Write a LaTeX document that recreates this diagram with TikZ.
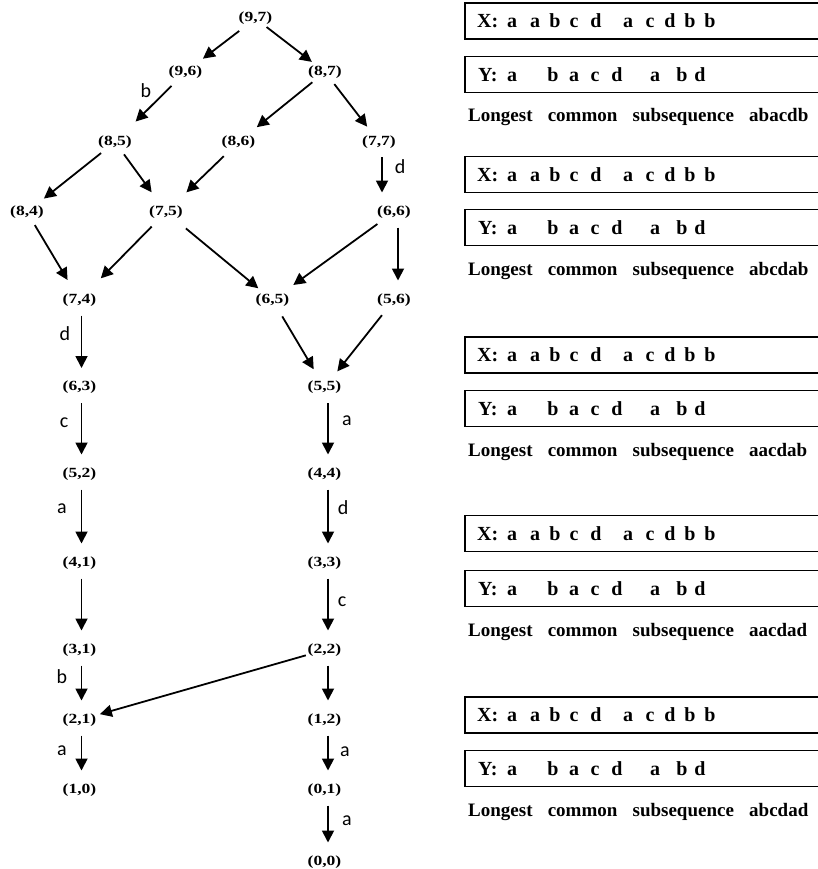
\documentclass[tikz,border=0pt]{standalone}
\usepackage{fontspec}
\setmainfont{Liberation Serif}
\newfontfamily\lblfont{Carlito}
\usepackage{graphicx}
\usetikzlibrary{arrows.meta}
\begin{document}
\begin{tikzpicture}[x=1pt,y=-1pt,
  nd/.style={font=\fontsize{14}{14}\selectfont\bfseries, inner sep=0pt},
  lbl/.style={font=\lblfont\fontsize{20}{20}\selectfont, inner sep=0pt},
  arr/.style={line width=1.8pt, -{Triangle[length=12pt,width=12pt]}},
  sh/.style 2 args={shorten <=#1pt, shorten >=#2pt},
  vt/.style={arr, shorten <=15.5pt, shorten >=19.5pt},
  seq/.style={font=\fontsize{20}{20}\selectfont\bfseries, inner sep=0pt, anchor=base},
  lcs/.style={font=\fontsize{19}{19}\selectfont\bfseries, inner sep=0pt, anchor=base west},
  boxln/.style={line width=1.6pt}]
\useasboundingbox (0,0) rectangle (818,869);

% ---- state nodes
\foreach \nm/\x/\y/\t in {
  n97/255.5/18.5/{(9,7)}, n96/185.5/72/{(9,6)}, n87/325/72/{(8,7)},
  n85/115/142/{(8,5)}, n86/238.5/142/{(8,6)}, n77/379/142/{(7,7)},
  n84/27/212/{(8,4)}, n75/166/212/{(7,5)}, n66/394/212/{(6,6)},
  n74/79.5/300/{(7,4)}, n65/272.5/300/{(6,5)}, n56/394/300/{(5,6)},
  n63/79.5/387.5/{(6,3)}, n55/324.5/387.5/{(5,5)},
  n52/79.5/474/{(5,2)}, n44/324.5/474/{(4,4)},
  n41/79.5/563/{(4,1)}, n33/324.5/563/{(3,3)},
  n31/79.5/650/{(3,1)}, n22/324.5/650/{(2,2)},
  n21/79.5/720/{(2,1)}, n12/324.5/720/{(1,2)},
  n10/79.5/790/{(1,0)}, n01/324.5/790/{(0,1)},
  n00/324.5/862/{(0,0)}}
  \node[nd] (\nm) at (\x,\y) {\scalebox{1.25}[1]{\t}};

% ---- diagonal arrows
\foreach \a/\b/\s/\e in {
  n97/n96/20.5/21.9, n97/n87/14/16.6, n96/n85/19.8/29,
  n87/n86/16.3/23.5, n87/n77/15.3/19.4, n85/n84/17.8/21.6,
  n85/n75/15.3/24.4, n86/n75/20.5/28.3, n84/n74/15.3/23.3,
  n75/n74/20.5/30.4, n75/n65/25.8/18.4, n66/n65/20.5/25.6,
  n65/n55/19.1/21.2, n56/n55/19.4/20.6, n22/n21/19.4/21.2}
  \draw[arr, sh={\s}{\e}] (\a.center) -- (\b.center);

% ---- vertical arrows
\foreach \a/\b in {n74/n63, n63/n52, n52/n41, n41/n31, n31/n21, n21/n10}
  \draw[vt] ([xshift=2pt]\a.center) -- ([xshift=2pt]\b.center);
\foreach \a/\b in {n55/n44, n44/n33, n33/n22, n22/n12, n12/n01, n01/n00}
  \draw[vt] ([xshift=3.5pt]\a.center) -- ([xshift=3.5pt]\b.center);
\coordinate (c77) at ([xshift=3pt]n77.center);
\draw[vt] (c77) -- (c77 |- n66.center);
\draw[vt] ([xshift=4pt]n66.center) -- ([xshift=4pt]n56.center);

% ---- edge labels
\foreach \nm/\x/\y/\t in {
  lb1/146/91/b, ld1/400/167/d, ld2/65/334/d, lc1/64/423/c, la1/62/509/a,
  la2/347/421/a, ld3/343/508/d, lc2/342/602/c, lb2/62/677/b,
  la3/62/751/a, la4/345/752/a, la5/347/821/a}
  \node[lbl] (\nm) at (\x,\y) {\t};

% ---- sequence boxes
\foreach \xc/\yc/\l [count=\k] in {21/74.5/abacdb, 174.5/227.5/abcdab,
    355/408.5/aacdab, 533.5/588.5/aacdad, 715/768.5/abcdad} {
  \draw[boxln] (465,{\xc-18}) rectangle (830,{\xc+18});
  \draw[boxln] (465,{\yc-18}) rectangle (830,{\yc+18});
  \node[seq, anchor=base west] (xl\k) at (477,{\xc+6.8}) {X:};
  \node[seq, anchor=base west] (yl\k) at (478,{\yc+6.8}) {Y:};
  \foreach \p/\t [count=\i] in {512/a, 535/a, 555/b, 574/c, 596/d, 628/a, 650/c, 670/d, 690/b, 710/b}
    \node[seq] (x\k-\i) at (\p,{\xc+6.8}) {\t};
  \foreach \p/\t [count=\i] in {512/a, 553/b, 574/a, 595/c, 617/d, 655/a, 682/b, 700/d}
    \node[seq] (y\k-\i) at (\p,{\yc+6.8}) {\t};
  \node[lcs] (lcs\k) at (468,{\yc+47.5}) {Longest\hspace{0.8em}common\hspace{0.8em}subsequence\hspace{0.8em}\l};
}
\end{tikzpicture}
\end{document}
